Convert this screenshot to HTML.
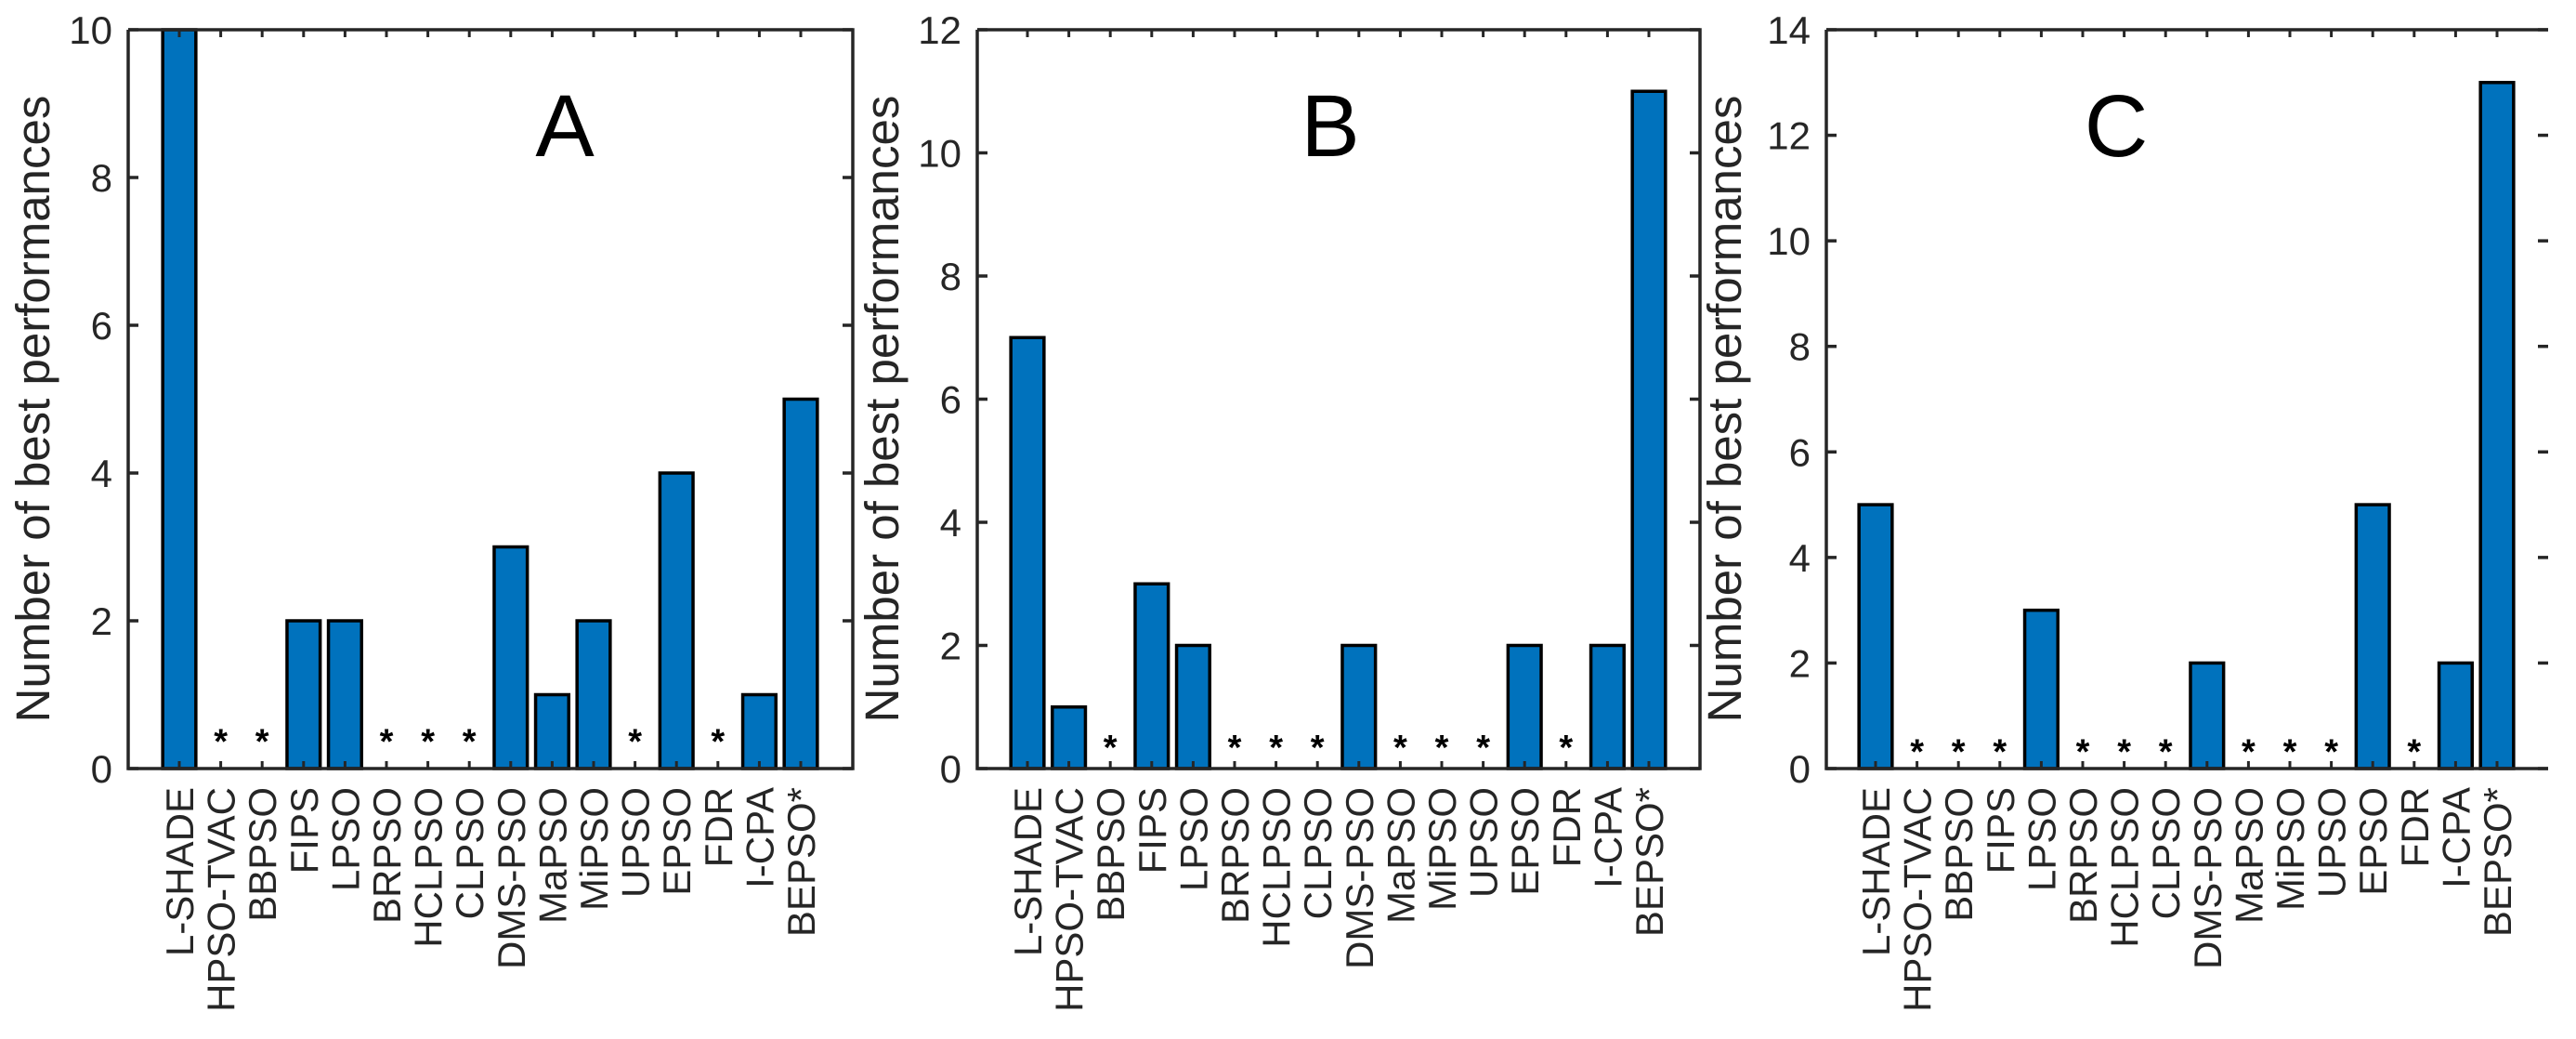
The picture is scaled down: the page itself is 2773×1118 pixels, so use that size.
<!DOCTYPE html>
<html><head><meta charset="utf-8"><style>
html,body{margin:0;padding:0;background:#fff;}
svg{display:block;font-family:"Liberation Sans",Arial,sans-serif;}
</style></head><body>
<svg id="chart" width="2773" height="1118" viewBox="0 0 2773 1118"></svg>
<script>
const categories = ["L-SHADE","HPSO-TVAC","BBPSO","FIPS","LPSO","BRPSO","HCLPSO","CLPSO","DMS-PSO","MaPSO","MiPSO","UPSO","EPSO","FDR","I-CPA","BEPSO*"];
const valuesA = [10,0,0,2,2,0,0,0,3,1,2,0,4,0,1,5];
const valuesB = [7,1,0,3,2,0,0,0,2,0,0,0,2,0,2,11];
const valuesC = [5,0,0,0,3,0,0,0,2,0,0,0,5,0,2,13];
const ticksA = [0,2,4,6,8,10];
const ticksB = [0,2,4,6,8,10,12];
const ticksC = [0,2,4,6,8,10,12,14];
const panelLabels = ["A","B","C"];

const NS = "http://www.w3.org/2000/svg";
const svgEl = document.getElementById("chart");
function mk(tag, attrs, parent){
  const e = document.createElementNS(NS, tag);
  for (const k in attrs) e.setAttribute(k, attrs[k]);
  (parent||svgEl).appendChild(e);
  return e;
}
const panels = [
  {values:valuesA, ticks:ticksA, ymax:10, left:138, right:918, first:193, letterX:608, titleBase:53, rightSpine:true},
  {values:valuesB, ticks:ticksB, ymax:12, left:1052, right:1830, first:1106, letterX:1432, titleBase:967, rightSpine:true},
  {values:valuesC, ticks:ticksC, ymax:14, left:1966, right:2743, first:2019, letterX:2278, titleBase:1874, rightSpine:false}
];
const plotTop = 32, plotBottom = 827, step = 44.6;
const axisCol = "#262626";
const FS = 42;
panels.forEach((p, pi) => {
  const g = mk("g", {});
  
  
  const xs = i => p.first + i * step;
  const ys = v => plotBottom - (v / p.ymax) * (plotBottom - plotTop);
  const bw = step * 0.8;
  p.values.forEach((v, i) => {
    if (v > 0) {
      const r = mk("rect", {x: xs(i) - bw/2, y: ys(v), width: bw, height: plotBottom - ys(v), fill: "#0072BD", stroke: "#000", "stroke-width": 3.5}, g);
      
      
    } else {
      const s = mk("text", {x: xs(i), y: ys(0.5) + 23, "text-anchor": "middle", "font-size": 38, "font-weight": "bold", fill: "#000"}, g);
      s.textContent = "*";
      
      
    }
  });
  const ax = mk("path", {d: `M${p.left},${plotTop} L${p.left},${plotBottom} L${p.right},${plotBottom}` + (p.rightSpine ? ` L${p.right},${plotTop}` : ` M${p.right},${plotTop}`) + ` L${p.left},${plotTop}`, fill: "none", stroke: axisCol, "stroke-width": 3.5}, g);
  
  
  p.ticks.forEach(t => {
    const y = ys(t);
    mk("line", {x1: p.left, x2: p.left + 11, y1: y, y2: y, stroke: axisCol, "stroke-width": 3.5}, g);
    mk("line", {x1: p.right - 11, x2: p.right, y1: y, y2: y, stroke: axisCol, "stroke-width": 3.5}, g);
    const tl = mk("text", {x: p.left - 17, y: y + 15, "text-anchor": "end", "font-size": FS, fill: axisCol}, g);
    tl.textContent = t;
    
    
  });
  categories.forEach((c, i) => {
    const x = xs(i);
    mk("line", {x1: x, x2: x, y1: plotBottom, y2: plotBottom - 8, stroke: axisCol, "stroke-width": 3}, g);
    mk("line", {x1: x, x2: x, y1: plotTop, y2: plotTop + 8, stroke: axisCol, "stroke-width": 3}, g);
    const xl = mk("text", {x: 0, y: 0, "text-anchor": "end", "font-size": FS, fill: axisCol, transform: `translate(${x + 15},${plotBottom + 20}) rotate(-90)`}, g);
    xl.textContent = c;
    
    
  });
  const yt = mk("text", {x: 0, y: 0, "text-anchor": "middle", "font-size": 51, fill: axisCol, transform: `translate(${p.titleBase},440) rotate(-90)`}, g);
  yt.textContent = "Number of best performances";
  
  
  const pl = mk("text", {x: p.letterX, y: 168, "text-anchor": "middle", "font-size": 95, fill: "#000"}, g);
  pl.textContent = panelLabels[pi];
  
  
});
</script>
</body></html>
